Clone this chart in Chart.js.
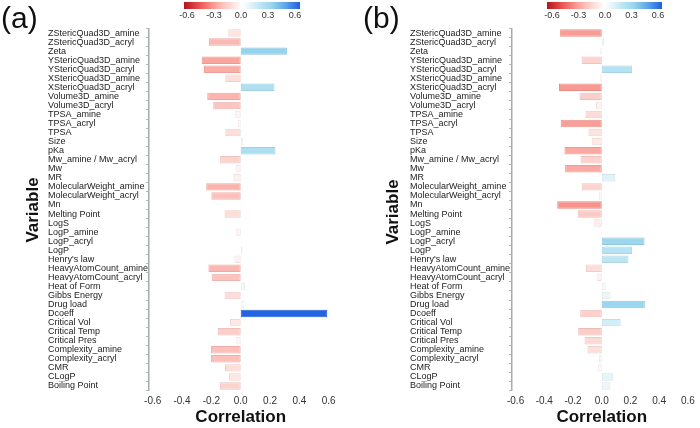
<!DOCTYPE html>
<html>
<head>
<meta charset="utf-8">
<script src="https://cdn.jsdelivr.net/npm/chart.js@4"></script>
<style>
  body { margin: 0; background: #fff; }
  #wrap { position: relative; width: 700px; height: 428px; background: #fff; font-family: "Liberation Sans", Arial, sans-serif; }
  canvas { position: absolute; top: 0; }
  .tag { position: absolute; top: 3px; font-size: 30px; line-height: 30px; color: #111; }
  .vlab { position: absolute; font-size: 17px; font-weight: bold; color: #111; transform: translate(-50%, -50%) rotate(-90deg); white-space: nowrap; }
  .cbar { position: absolute; top: 2px; height: 7px; }
  .cbtick { position: absolute; top: 10px; font-size: 9px; color: #333; transform: translateX(-50%); }
</style>
</head>
<body>
<div id="wrap">
  <canvas id="chartA" width="350" height="428" style="left:0"></canvas>
  <canvas id="chartB" width="350" height="428" style="left:350px"></canvas>
  <div class="tag" style="left:1px">(a)</div>
  <div class="tag" style="left:363px">(b)</div>
  <div class="vlab" style="left:33px;top:210px">Variable</div>
  <div class="vlab" style="left:393px;top:212px">Variable</div>
</div>
<script>
const categorias = [
  "ZStericQuad3D_amine", "ZStericQuad3D_acryl", "Zeta", "YStericQuad3D_amine",
  "YStericQuad3D_acryl", "XStericQuad3D_amine", "XStericQuad3D_acryl", "Volume3D_amine",
  "Volume3D_acryl", "TPSA_amine", "TPSA_acryl", "TPSA", "Size", "pKa",
  "Mw_amine / Mw_acryl", "Mw", "MR", "MolecularWeight_amine", "MolecularWeight_acryl",
  "Mn", "Melting Point", "LogS", "LogP_amine", "LogP_acryl", "LogP", "Henry's law",
  "HeavyAtomCount_amine", "HeavyAtomCount_acryl", "Heat of Form", "Gibbs Energy",
  "Drug load", "Dcoeff", "Critical Vol", "Critical Temp", "Critical Pres",
  "Complexity_amine", "Complexity_acryl", "CMR", "CLogP", "Boiling Point"
];

// correlaciones panel (a)
const corrA = [
  -0.085, -0.217, 0.315, -0.265, -0.25, -0.105, 0.23, -0.228, -0.187, -0.037,
  -0.02, -0.105, 0.015, 0.237, -0.14, -0.035, -0.05, -0.235, -0.2, 0.004,
  -0.11, 0.002, -0.035, 0.005, 0.012, -0.043, -0.22, -0.195, 0.03, -0.11,
  0.025, 0.59, -0.073, -0.157, -0.03, -0.203, -0.203, -0.107, -0.08, -0.142
];

// correlaciones panel (b)
const corrB = [
  -0.29, 0.015, -0.01, -0.14, 0.21, -0.01, -0.298, -0.155, -0.04, -0.114,
  -0.286, -0.093, -0.07, -0.26, -0.148, -0.255, 0.095, -0.14, -0.02, -0.31,
  -0.168, -0.057, -0.003, 0.298, 0.21, 0.186, -0.11, -0.036, 0.027, 0.06,
  0.3, -0.15, 0.132, -0.164, -0.12, -0.1, -0.018, -0.025, 0.08, 0.06
];

const ticksX = [-0.6, -0.4, -0.2, 0.0, 0.2, 0.4, 0.6];
const ticksBarra = [-0.6, -0.3, 0.0, 0.3, 0.6];

// escala de color rojo-blanco-azul
const paradas = [
  [-0.6, [178, 20, 30]],
  [-0.45, [232, 80, 78]],
  [-0.3, [249, 152, 144]],
  [-0.2, [252, 192, 186]],
  [-0.1, [253, 224, 220]],
  [0.0, [255, 255, 255]],
  [0.1, [222, 242, 249]],
  [0.2, [184, 228, 243]],
  [0.3, [155, 215, 238]],
  [0.45, [95, 165, 232]],
  [0.6, [30, 95, 225]]
];

function colorDe(v, f) {
  f = f || 1;
  v = Math.max(-0.6, Math.min(0.6, v));
  for (let i = 0; i < paradas.length - 1; i++) {
    const [a, ca] = paradas[i];
    const [b, cb] = paradas[i + 1];
    if (v >= a && v <= b) {
      const t = (v - a) / (b - a);
      const c = ca.map((x, k) => Math.round((x + (cb[k] - x) * t) * f));
      return `rgb(${c[0]},${c[1]},${c[2]})`;
    }
  }
  return "#fff";
}

function crearGrafico(id, datos, izq, anchoEje, der) {
  const ctx = document.getElementById(id).getContext("2d");
  return new Chart(ctx, {
    type: "bar",
    data: {
      labels: categorias,
      datasets: [{
        data: datos,
        backgroundColor: datos.map(v => colorDe(v)),
        borderColor: datos.map(v => colorDe(v, 0.93)),
        borderWidth: 1,
        borderSkipped: false,
        barPercentage: 0.82,
        categoryPercentage: 1
      }]
    },
    options: {
      indexAxis: "y",
      responsive: false,
      animation: false,
      layout: { padding: { left: izq, right: der, top: 28.5, bottom: 0 } },
      plugins: { legend: { display: false }, tooltip: { enabled: false } },
      scales: {
        x: {
          min: -0.625,
          max: 0.625,
          afterBuildTicks: s => { s.ticks = ticksX.map(v => ({ value: v })); },
          afterFit: s => { s.height = 37.5; },
          grid: { display: false, drawTicks: false },
          border: { display: false },
          ticks: {
            padding: 5,
            color: "#333",
            font: { family: "Liberation Sans, Arial, sans-serif", size: 10 },
            callback: v => Number(v).toFixed(1)
          },
          title: {
            display: true,
            text: "Correlation",
            color: "#111",
            padding: 0,
            font: { family: "Liberation Sans, Arial, sans-serif", size: 17, weight: "bold" }
          }
        },
        y: {
          afterFit: s => { s.width = anchoEje; },
          grid: { display: true, drawOnChartArea: false, drawTicks: true, tickLength: 3, color: "#b5bdbb" },
          border: { display: true, color: "#a3adab", width: 1.5 },
          ticks: {
            crossAlign: "far",
            autoSkip: false,
            color: "#222",
            font: { family: "Liberation Sans, Arial, sans-serif", size: 9 }
          }
        }
      }
    }
  });
}

crearGrafico("chartA", corrA, 48, 101, 17.6);
crearGrafico("chartB", corrB, 60, 102, 6.2);

// barras de color arriba
const wrap = document.getElementById("wrap");
const gradiente = "linear-gradient(to right, " +
  paradas.map(p => colorDe(p[0]) + " " + ((p[0] + 0.6) / 1.2 * 100).toFixed(1) + "%").join(", ") + ")";

function barraColor(x0, x1, l0, l1) {
  const d = document.createElement("div");
  d.className = "cbar";
  d.style.left = x0 + "px";
  d.style.width = (x1 - x0) + "px";
  d.style.background = gradiente;
  wrap.appendChild(d);
  ticksBarra.forEach((v, i) => {
    const t = document.createElement("div");
    t.className = "cbtick";
    t.style.left = (l0 + (l1 - l0) * i / (ticksBarra.length - 1)) + "px";
    t.textContent = v.toFixed(1);
    wrap.appendChild(t);
  });
}

barraColor(184, 300, 187, 295);
barraColor(547, 662, 552, 658);
</script>
</body>
</html>
